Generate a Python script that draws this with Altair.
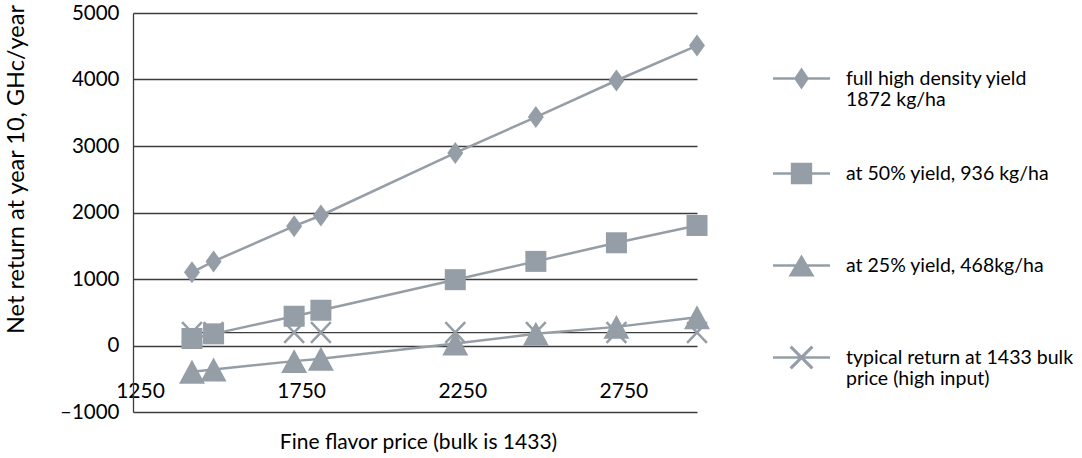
import altair as alt
import pandas as pd

# ---- data ----
price = [1433, 1500, 1750, 1833, 2250, 2500, 2750, 3000]
full_yield = [1100, 1265, 1795, 1955, 2895, 3435, 3985, 4510]
yield_50 = [105, 175, 440, 530, 990, 1265, 1545, 1805]
yield_25 = [-395, -360, -235, -200, 30, 175, 280, 425]
typical = [195, 195, 195, 195, 195, 195, 195, 195]

series_names = [
    "full high density yield|1872 kg/ha",
    "at 50% yield, 936 kg/ha",
    "at 25% yield, 468kg/ha",
    "typical return at 1433 bulk|price (high input)",
]
x_ticks = [1250, 1750, 2250, 2750]
y_ticks = [-1000, 0, 1000, 2000, 3000, 4000, 5000]

rows = []
for name, vals in zip(series_names, [full_yield, yield_50, yield_25, typical]):
    for p, v in zip(price, vals):
        rows.append({"price": p, "value": v, "series": name})
df = pd.DataFrame(rows)

GRAY = "#959ea6"
DARK = "#3c3c3c"
FONT = "Lato"
FS = 21

S_TYP = series_names[3]

x_enc = alt.X(
    "price:Q",
    scale=alt.Scale(domain=[1250, 3000], nice=False, zero=False),
    axis=alt.Axis(
        values=x_ticks, title="Fine flavor price (bulk is 1433)", grid=False,
        ticks=False, domain=False, labelFlush=False, labelOverlap=False,
        format="d",
        labelBaseline="middle", labelPadding=-21, labelOffset=7,
        labelFontSize=FS, labelFont=FONT, labelColor="#000",
        titleFontSize=21, titleFont=FONT, titleFontWeight="normal", titleColor="#000",
        titleBaseline="middle", titleY=30, titleX=285,
    ),
)
y_enc = alt.Y(
    "value:Q",
    scale=alt.Scale(domain=[-1000, 5000], nice=False),
    axis=alt.Axis(
        values=y_ticks, title="Net return at year 10, GHc/year", grid=True,
        gridColor=DARK, gridWidth=1.3, gridOpacity=1,
        domain=True, domainColor=DARK, domainWidth=1.3, ticks=False,
        labelPadding=14, labelFontSize=20.5, labelFont=FONT, labelColor="#000",
        labelExpr="datum.value < 0 ? '\u2013' + abs(datum.value) : datum.label",
        format="d",
        titleFontSize=23.5, titleFont=FONT, titleFontWeight="normal", titleColor="#000",
        titleBaseline="middle", titleAngle=-90, titleX=-117, titleY=156,
    ),
)

base = alt.Chart(df)

typ_line = base.transform_filter(alt.datum.series == S_TYP).mark_line(
    color=DARK, strokeWidth=1.3
).encode(x=x_enc, y=y_enc)

x_pts = base.transform_filter(alt.datum.series == S_TYP).mark_point(
    shape="M-0.9,-0.95L0.9,0.95M-0.9,0.95L0.9,-0.95", filled=False, size=484,
    strokeWidth=2.5, color=GRAY, opacity=1
).encode(x=x_enc, y=y_enc)

gray_lines = base.transform_filter(alt.datum.series != S_TYP).mark_line(
    color=GRAY, strokeWidth=2.5
).encode(x=x_enc, y=y_enc, detail="series:N")

plot_shapes = [
    "M0,-1L0.727,0L0,1L-0.727,0Z",
    "M-0.955,-0.955L0.955,-0.955L0.955,0.955L-0.955,0.955Z",
    "M0,-1.09L1.18,1.09L-1.18,1.09Z",
]
pts = base.transform_filter(alt.datum.series != S_TYP).mark_point(
    filled=True, size=484, color=GRAY, opacity=1
).encode(
    x=x_enc, y=y_enc,
    shape=alt.Shape("series:N", scale=alt.Scale(domain=series_names[:3], range=plot_shapes), legend=None),
)

# legend symbols: horizontal bar + marker, all filled (no stroke); extents padded to full box
EXT = "M0,-1L0,-1M0,1L0,1"
BAR = "M-1,-0.045L1,-0.045L1,0.045L-1,0.045Z"
legend_shapes = [
    EXT + BAR + "M0,-0.386L0.263,0L0,0.386L-0.263,0Z",
    EXT + BAR + "M-0.375,-0.375L0.375,-0.375L0.375,0.375L-0.375,0.375Z",
    EXT + BAR + "M0,-0.386L0.456,0.386L-0.456,0.386Z",
    EXT + BAR + "M-0.343,-0.419L0.419,0.343L0.343,0.419L-0.419,-0.343Z"
    + "M-0.343,0.419L-0.419,0.343L0.343,-0.419L0.419,-0.343Z",
]
legend_layer = base.transform_calculate(lseries="datum.series").transform_filter(
    "datum.price < 0"
).mark_point(
    filled=True, color=GRAY, size=484
).encode(
    x=x_enc, y=y_enc,
    shape=alt.Shape(
        "lseries:N",
        scale=alt.Scale(domain=series_names, range=legend_shapes),
        legend=alt.Legend(
            title=None, orient="none", legendX=640, legendY=37, direction="vertical",
            padding=0, rowPadding=35, labelOffset=16, symbolSize=3249,
            symbolFillColor=GRAY, symbolStrokeWidth=0,
            symbolOpacity=1, labelFont=FONT, labelFontSize=19.5, labelColor="#000",
            labelLimit=400, labelBaseline="middle",
            labelExpr="split(datum.label, '|')",
        ),
    ),
)

chart = alt.layer(typ_line, x_pts, gray_lines, pts, legend_layer).resolve_scale(
    shape="independent"
).properties(
    width=564, height=399,
    autosize=alt.AutoSizeParams(type="none"),
    padding={"left": 133, "top": 13, "right": 385, "bottom": 46},
).configure_view(stroke=None)

chart.save("out.html", embed_options={"renderer": "svg", "actions": False})
